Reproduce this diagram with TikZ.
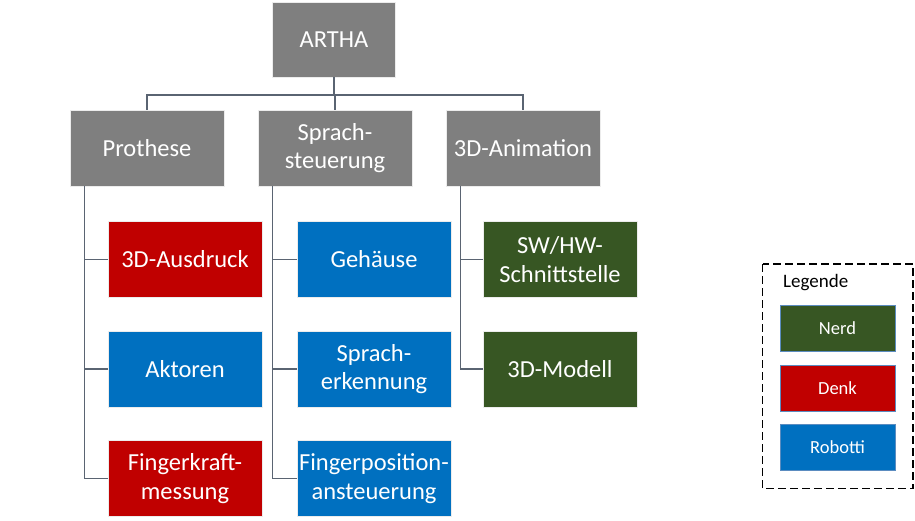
\documentclass[tikz,border=0pt]{standalone}
\usepackage{fontspec}
\setmainfont{Carlito}
\definecolor{boxgray}{HTML}{7F7F7F}
\definecolor{boxred}{HTML}{C00000}
\definecolor{boxblue}{HTML}{0070C0}
\definecolor{boxgreen}{HTML}{375623}
\definecolor{lineslate}{HTML}{5A6472}
\definecolor{legedge}{HTML}{5B8CC0}
\begin{document}
\begin{tikzpicture}[x=1pt,y=-1pt,
  box/.style={rectangle, minimum width=154pt, minimum height=76pt, inner sep=0pt,
    text=white, align=center, font=\fontsize{24.5}{28.5}\selectfont,
    draw=white!85!gray, line width=0.6pt},
  graybox/.style={box, fill=boxgray},
  redbox/.style={box, fill=boxred},
  bluebox/.style={box, fill=boxblue},
  greenbox/.style={box, fill=boxgreen},
  legbox/.style={rectangle, minimum width=115pt, minimum height=46pt, inner sep=0pt,
    text=white, font=\fontsize{18.5}{22}\selectfont, draw=legedge, line width=0.6pt},
  conn/.style={draw=lineslate, line width=1.5pt}]
\useasboundingbox (0,0) rectangle (915,521);
% top
\node[graybox, minimum width=123pt, minimum height=75pt] (artha) at (334,39.5) {ARTHA};
\node[graybox] (prothese) at (147,148) {Prothese};
\node[graybox] (sprach) at (335,148) {Sprach-\\steuerung};
\node[graybox] (anim) at (523,148) {3D-Animation};
% children
\node[redbox] (ausdruck) at (185,259.5) {3D-Ausdruck};
\node[bluebox] (aktoren) at (185,369) {Aktoren};
\node[redbox] (kraft) at (185,478.5) {Fingerkraft-\\messung};
\node[bluebox] (gehaeuse) at (374,259.5) {Gehäuse};
\node[bluebox] (erkennung) at (374,369) {Sprach-\\erkennung};
\node[bluebox] (position) at (374,478.5) {Fingerposition-\\ansteuerung};
\node[greenbox] (schnitt) at (560,259.5) {SW/HW-\\Schnittstelle};
\node[greenbox] (modell) at (560,369) {3D-Modell};
% connectors top
\coordinate (bus) at (334,95);
\draw[conn] (artha.south) -- (bus);
\draw[conn] (prothese.north) -- (prothese.north |- bus) -- (anim.north |- bus) -- (anim.north);
\draw[conn] (sprach.north) -- (sprach.north |- bus);
% connectors children
\coordinate (pv) at ([xshift=15pt]prothese.south west);
\coordinate (sv) at ([xshift=15pt]sprach.south west);
\coordinate (av) at ([xshift=15pt]anim.south west);
\draw[conn] (pv) |- (kraft.west);
\draw[conn] (pv) |- (aktoren.west);
\draw[conn] (pv) |- (ausdruck.west);
\draw[conn] (sv) |- (position.west);
\draw[conn] (sv) |- (erkennung.west);
\draw[conn] (sv) |- (gehaeuse.west);
\draw[conn] (av) |- (modell.west);
\draw[conn] (av) |- (schnitt.west);
% legend
\draw[black, line width=1.5pt, dash pattern=on 8pt off 4pt] (762.5,264) rectangle (913,488.5);
\node[anchor=west, font=\fontsize{19}{22}\selectfont, inner sep=0pt] (legende) at (783,283) {Legende};
\node[legbox, fill=boxgreen] (nerd) at (837.5,328) {Nerd};
\node[legbox, fill=boxred] (denk) at (837.5,388) {Denk};
\node[legbox, fill=boxblue] (robotti) at (837.5,447.5) {Robotti};
\end{tikzpicture}
\end{document}
